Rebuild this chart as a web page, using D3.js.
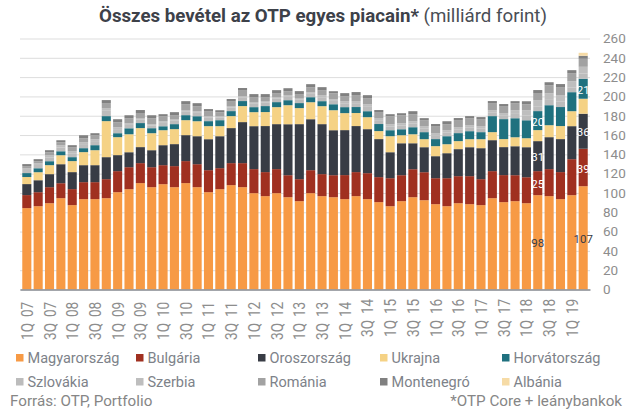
<!DOCTYPE html>
<html>
<head>
<meta charset="utf-8">
<style>
  html, body { margin: 0; padding: 0; background: #fff; }
  svg { display: block; }
  text { font-family: Roboto, sans-serif; }
</style>
<script src="https://cdn.jsdelivr.net/npm/d3@7"></script>
</head>
<body>
<div id="chart"></div>
<script>
//Quarters, one per bar
var quarters = [
  '1Q 07','2Q 07','3Q 07','4Q 07','1Q 08','2Q 08','3Q 08','4Q 08','1Q 09','2Q 09',
  '3Q 09','4Q 09','1Q 10','2Q 10','3Q 10','4Q 10','1Q 11','2Q 11','3Q 11','4Q 11',
  '1Q 12','2Q 12','3Q 12','4Q 12','1Q 13','2Q 13','3Q 13','4Q 13','1Q 14','2Q 14',
  '3Q 14','4Q 14','1Q 15','2Q 15','3Q 15','4Q 15','1Q 16','2Q 16','3Q 16','4Q 16',
  '1Q 17','2Q 17','3Q 17','4Q 17','1Q 18','2Q 18','3Q 18','4Q 18','1Q 19','2Q 19'
];

//Series values (milliard forint)
var magyarorszag = [84.3,86.3,89.4,94.6,87.4,93.6,93.6,94.6,100.8,103.9,110.2,106,109.1,106,110.2,106,100.8,103.9,108.1,106,99.8,96.7,99.8,95.6,91.5,99.8,96.7,95.6,93.6,96.7,93.6,90.5,86.3,91.5,95.6,92.5,88.4,86.3,89.4,88.4,87.4,94.6,90.5,91.5,89.4,97.7,96.7,93.6,97.7,107];
var bulgaria = [13.5,14.5,16.6,15.5,16.6,17.6,17.6,19.7,21.8,22.8,20.7,20.7,19.7,21.8,22.8,23.8,22.8,21.8,22.8,24.9,24.9,24.9,24.9,22.8,22.8,23.8,22.8,22.8,24.9,24.9,26.9,25.9,29,26.9,29,29,26.9,29,28,29,26.9,28,28,26.9,26.9,24.9,28,28,37.3,38.8];
var oroszorszag = [11.4,12.4,13.5,19.7,17.6,17.6,17.6,22.8,16.6,15.5,16.6,17.6,20.7,22.8,26.9,29,32.1,33.1,36.3,42.5,44.5,47.7,46.6,52.8,57,52.8,51.8,46.6,46.6,47.7,45.6,39.4,26.9,33.1,26.9,25.9,22.8,25.9,28,30,32.1,32.1,29,30,31.1,31.1,33.1,34.2,34.2,36.3];
var ukrajna = [7.3,8.3,9.3,9.3,11.4,13.5,15.5,37.3,18.6,18.6,19.7,17.6,15.5,15.5,15.5,15.5,13.5,10.4,12.4,16.6,14.5,14.5,17.6,19.7,16.6,17.6,18.6,20.7,17.6,13.5,12.4,8.3,16.6,8.3,9.3,8.3,10.4,9.3,8.3,8.3,9.3,8.3,8.3,9.3,9.3,11.4,12.4,13.5,15.5,15.5];
var horvatorszag = [4.1,4.1,4.1,4.1,4.1,4.1,5.2,5.2,4.1,6.2,5.2,5.2,4.1,5.2,5.2,5.2,5.2,6.2,5.2,5.2,5.2,6.2,5.2,5.2,5.2,5.2,5.2,6.2,6.2,6.2,6.2,7.3,6.2,6.2,7.3,7.3,7.3,8.3,8.3,8.3,7.3,16.6,20.7,19.7,18.6,19.7,20.7,19.7,19.7,20.7];
var szlovakia = [3.2,3.4,4,4,4,4.2,4.2,5.5,4.2,3.5,3.5,2.9,3.5,3.5,3.5,3.5,3.5,2.9,3.5,3.5,3.5,3.5,3.5,3.5,3.5,3.5,4,3.5,4,4,4.5,4,4,4,4,4,4,4,4,4,4,4,4,4.5,5,5,5.5,5.5,5,5.5];
var szerbia = [1.6,1.8,2.2,2.2,2.2,2,2,2.8,2,1.7,1.7,1.2,1.7,1.7,1.7,1.7,1.7,1.2,1.7,1.7,1.7,1.7,1.7,1.7,1.7,1.7,2.2,1.7,2.2,2.2,2.8,2.2,2.2,2.2,2.2,2.2,2.2,2.2,2.2,2.2,2.2,2.2,2.2,3.8,5.4,6.4,6.9,6.9,6.4,6.9];
var romania = [2.4,2.1,3.1,3.1,3.8,4.1,4.1,5.2,5.2,5.2,5.2,6.2,5.2,4.1,6.2,5.2,5.2,4.1,5.2,6.2,5.2,4.1,4.1,4.1,4.1,5.2,5.2,6.2,5.2,6.2,6.2,6.2,8.3,8.3,7.3,6.2,7.3,6.2,7.3,7.3,7.3,7.3,7.3,7.3,6.2,7.3,8.3,8.3,8.3,8.3];
var montenegro = [2.1,2.1,2.1,2.1,2.4,3.1,2.1,3.1,3.1,3.1,3.1,3.1,2.1,3.1,3.1,3.1,2.1,2.1,2.1,2.1,3.1,3.1,3.1,3.1,3.1,3.1,3.1,2.1,3.1,3.1,3.1,2.1,2.1,2.1,3.1,2.1,2.1,3.1,2.1,2.1,2.1,2.1,2.1,2.1,3.1,3.1,3.1,3.1,3.1,3.1];
var albania = [0,0,0,0,0,0,0,0,0,0,0,0,0,0,0,0,0,0,0,0,0,0,0,0,0,0,0,0,0,0,0,0,0,0,0,0,0,0,0,0,0,0,0,0,0,0,0,0,0,3.1];

var seriesNames = ['Magyarország','Bulgária','Oroszország','Ukrajna','Horvátország','Szlovákia','Szerbia','Románia','Montenegró','Albánia'];
var seriesValues = [magyarorszag, bulgaria, oroszorszag, ukrajna, horvatorszag, szlovakia, szerbia, romania, montenegro, albania];
var seriesColors = ['#f79a45','#a03020','#383c45','#f5d285','#1f717f','#bcbcbc','#bebebe','#a2a2a2','#808080','#f6dba6'];

var yTicks = [0,20,40,60,80,100,120,140,160,180,200,220,240,260];

//Bars that carry value labels, and which series get one
var labeledQuarters = ['2Q 18','2Q 19'];
var labeledSeries = ['Magyarország','Bulgária','Oroszország','Horvátország'];

var width = 631, height = 414;
var margin = { top: 38.5, right: 41, bottom: 124.5, left: 20 };
var chartW = width - margin.left - margin.right,
    chartH = height - margin.top - margin.bottom;

var svg = d3.select('#chart').append('svg')
  .attr('width', width)
  .attr('height', height);

var g = svg.append('g')
  .attr('transform', 'translate(' + margin.left + ',' + margin.top + ')');

var xScale = d3.scaleBand()
  .domain(quarters)
  .range([0, chartW])
  .padding(0.2);

var yScale = d3.scaleLinear()
  .domain([0, 260])
  .range([chartH, 0]);

//Table for d3.stack
var table = quarters.map(function(q, i) {
  var row = { quarter: q };
  seriesNames.forEach(function(name, s) { row[name] = seriesValues[s][i]; });
  return row;
});
var stacked = d3.stack().keys(seriesNames)(table);

//Gridlines and y labels
var yAxis = g.append('g')
  .attr('transform', 'translate(' + chartW + ',0)')
  .call(d3.axisRight(yScale).tickValues(yTicks).tickSize(-chartW).tickPadding(13));
yAxis.select('.domain').remove();
yAxis.selectAll('line').attr('stroke', '#dddddd').attr('stroke-width', 1);
yAxis.selectAll('text')
  .attr('fill', '#8d8d8d')
  .style('font-size', '13.5px')
  .style('font-family', 'Roboto, sans-serif');

//Stacked bars
g.selectAll('.layer')
  .data(stacked)
  .enter()
  .append('g')
  .attr('class', 'layer')
  .attr('fill', function(d, i) { return seriesColors[i]; })
  .selectAll('rect')
  .data(function(d) { return d; })
  .enter()
  .append('rect')
  .attr('x', function(d) { return xScale(d.data.quarter); })
  .attr('width', xScale.bandwidth())
  .attr('y', function(d) { return yScale(d[1]); })
  .attr('height', function(d) { return yScale(d[0]) - yScale(d[1]); });

//Baseline and quarter labels, squeezed along their length like the original
var xAxis = g.append('g')
  .attr('transform', 'translate(0,' + chartH + ')')
  .call(d3.axisBottom(xScale)
    .tickValues(quarters.filter(function(q, i) { return i % 2 === 0; }))
    .tickSize(0));
xAxis.select('.domain').attr('stroke', '#8a8e94').attr('stroke-width', 1.5);
xAxis.selectAll('text')
  .attr('fill', '#8d8d8d')
  .style('font-size', '16px')
  .style('font-family', 'Roboto, sans-serif')
  .style('word-spacing', '3px')
  .attr('text-anchor', 'start')
  .attr('dy', '6px')
  .attr('transform', function(d) {
    return 'translate(0,' + (quarters.indexOf(d) >= 30 ? 47.5 : 50.5) + ') rotate(-90) scale(0.85,1)';
  })
  .attr('x', 0)
  .attr('y', 0);

//Value labels on the two marked bars
stacked.forEach(function(layer) {
  if (labeledSeries.indexOf(layer.key) < 0) return;
  layer.forEach(function(d) {
    if (labeledQuarters.indexOf(d.data.quarter) < 0) return;
    g.append('text')
      .attr('x', xScale(d.data.quarter) + xScale.bandwidth() / 2)
      .attr('y', yScale((d[0] + d[1]) / 2) + 1)
      .attr('dy', '0.35em')
      .attr('text-anchor', 'middle')
      .attr('fill', layer.key === 'Magyarország' ? '#383c45' : '#ffffff')
      .style('font-size', '11.5px')
      .text(d3.format('.0f')(d.data[layer.key]));
  });
});

//Title
var title = svg.append('text')
  .attr('x', 323)
  .attr('y', 22)
  .attr('text-anchor', 'middle')
  .attr('fill', '#3d4149')
  .style('font-size', '18.7px');
title.append('tspan').style('font-weight', 700).text('Összes bevétel az OTP egyes piacain*');
title.append('tspan').attr('fill', '#4a4e55').text(' (milliárd forint)');

//Legend, two rows of five
var legendX = [16, 136, 258, 380, 502];
var legendY = [358, 382];
var legend = svg.selectAll('.legend')
  .data(seriesNames)
  .enter()
  .append('g')
  .attr('class', 'legend')
  .attr('transform', function(d, i) {
    return 'translate(' + legendX[i % 5] + ',' + legendY[Math.floor(i / 5)] + ')';
  });
legend.append('rect')
  .attr('y', -4)
  .attr('width', 7.5)
  .attr('height', 7.5)
  .attr('fill', function(d, i) { return seriesColors[i]; });
legend.append('text')
  .attr('x', 11.5)
  .attr('dy', '0.35em')
  .attr('fill', '#7d8289')
  .style('font-size', '14.5px')
  .text(function(d) { return d; });

//Footer sits on a white strip that cuts the legend descenders
svg.append('rect')
  .attr('x', 0).attr('y', 390)
  .attr('width', width).attr('height', 24)
  .attr('fill', '#ffffff');
svg.append('text')
  .attr('x', 10).attr('y', 406)
  .attr('fill', '#868686')
  .style('font-size', '15.2px')
  .text('Forrás: OTP, Portfolio');
svg.append('text')
  .attr('x', 622).attr('y', 406)
  .attr('text-anchor', 'end')
  .attr('fill', '#868686')
  .style('font-size', '15.2px')
  .text('*OTP Core + leánybankok');
</script>
</body>
</html>
